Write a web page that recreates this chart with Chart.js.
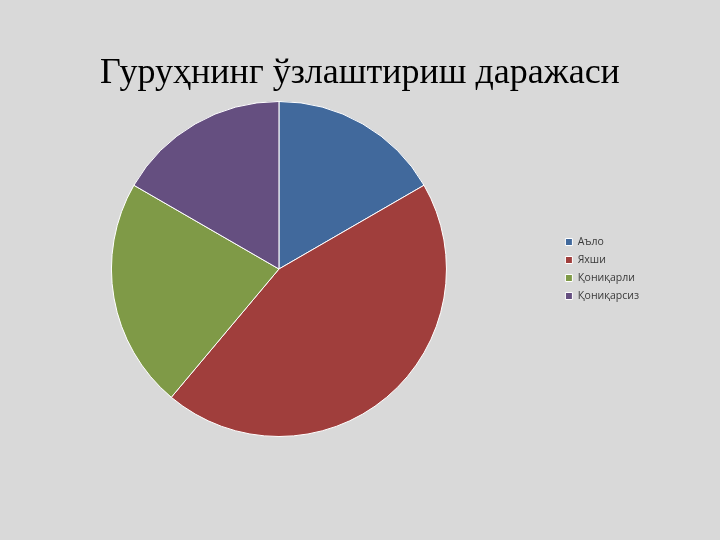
<!DOCTYPE html>
<html>
<head>
<meta charset="utf-8">
<script src="https://cdn.jsdelivr.net/npm/chart.js@4/dist/chart.umd.min.js"></script>
<style>
  html, body { margin: 0; padding: 0; background: #d9d9d9; }
  #wrap { width: 720px; height: 540px; }
</style>
</head>
<body>
<div id="wrap"><canvas id="pie" width="720" height="540"></canvas></div>
<script>
// Slice labels and values
const categories = ["Аъло", "Яхши", "Қониқарли", "Қониқарсиз"];
const values = [6, 16, 8, 6];
const colors = ["#41699c", "#a03e3c", "#7f9a47", "#654f80"];
const titleText = "Гуруҳнинг ўзлаштириш даражаси";

// Title centred on the whole slide, not on the chart area
const slideTitle = {
  id: "slideTitle",
  afterDraw(chart) {
    const c = chart.ctx;
    c.save();
    c.fillStyle = "#000000";
    c.font = "36px 'Liberation Serif'";
    c.textAlign = "center";
    c.textBaseline = "alphabetic";
    c.fillText(titleText, chart.width / 2, 83);
    c.restore();
  },
};

const ctx = document.getElementById("pie").getContext("2d");

new Chart(ctx, {
  type: "pie",
  data: {
    labels: categories,
    datasets: [
      {
        data: values,
        backgroundColor: colors,
        borderColor: "#ffffff",
        borderWidth: 1,
      },
    ],
  },
  options: {
    responsive: false,
    animation: false,
    layout: {
      padding: { left: 0, right: 71, top: 101, bottom: 103 },
    },
    plugins: {
      title: { display: false },
      legend: {
        position: "right",
        labels: {
          color: "#3a3a3a",
          boxWidth: 7,
          boxHeight: 7,
          padding: 7.5,
          font: { family: "Open Sans", size: 10.5 },
        },
      },
      tooltip: { enabled: false },
    },
  },
  plugins: [slideTitle],
});
</script>
</body>
</html>
